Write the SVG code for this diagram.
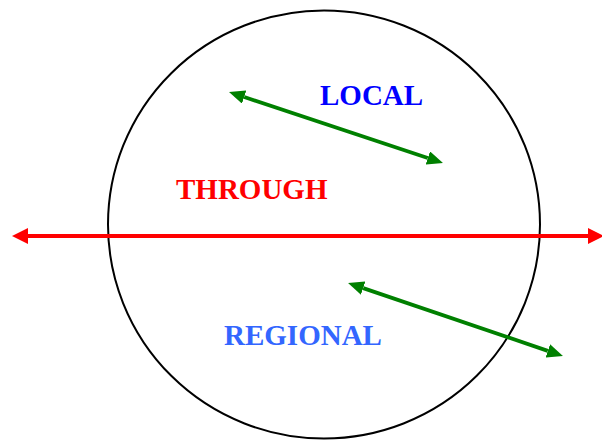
<svg xmlns="http://www.w3.org/2000/svg" width="602" height="440" viewBox="0 0 602 440">
<style>
.lbl{font-family:"Liberation Serif","Times New Roman",serif;font-weight:bold;font-size:29px}
.g{stroke:#008000;stroke-width:3.8;fill:none}
</style>
<defs>
<marker id="ag" viewBox="0 0 16 14" refX="0" refY="7" markerWidth="16" markerHeight="14" markerUnits="userSpaceOnUse" orient="auto-start-reverse"><path d="M0,0L16,7L0,14z" fill="#008000"/></marker>
<marker id="ar" viewBox="0 0 16 16" refX="0" refY="8" markerWidth="16" markerHeight="16" markerUnits="userSpaceOnUse" orient="auto-start-reverse"><path d="M0,0L16,8L0,16z" fill="#FF0000"/></marker>
</defs>
<rect width="602" height="440" fill="#fff"/>
<g id="circle"><ellipse cx="324" cy="224.5" rx="216" ry="214" fill="none" stroke="#000" stroke-width="2"/></g>
<g id="connectors">
<line x1="28" y1="236" x2="588" y2="236" stroke="#FF0000" stroke-width="4" marker-start="url(#ar)" marker-end="url(#ar)"/>
<line class="g" x1="244.2" y1="97" x2="427.8" y2="158" marker-start="url(#ag)" marker-end="url(#ag)"/>
<line class="g" x1="363.2" y1="288.1" x2="547.8" y2="350.9" marker-start="url(#ag)" marker-end="url(#ag)"/>
</g>
<g id="local"><text class="lbl" x="320" y="105" fill="#0000FF">LOCAL</text></g>
<g id="through"><text class="lbl" x="176" y="199" fill="#FF0000">THROUGH</text></g>
<g id="regional"><text class="lbl" x="224" y="345" fill="#3366FF">REGIONAL</text></g>
</svg>
